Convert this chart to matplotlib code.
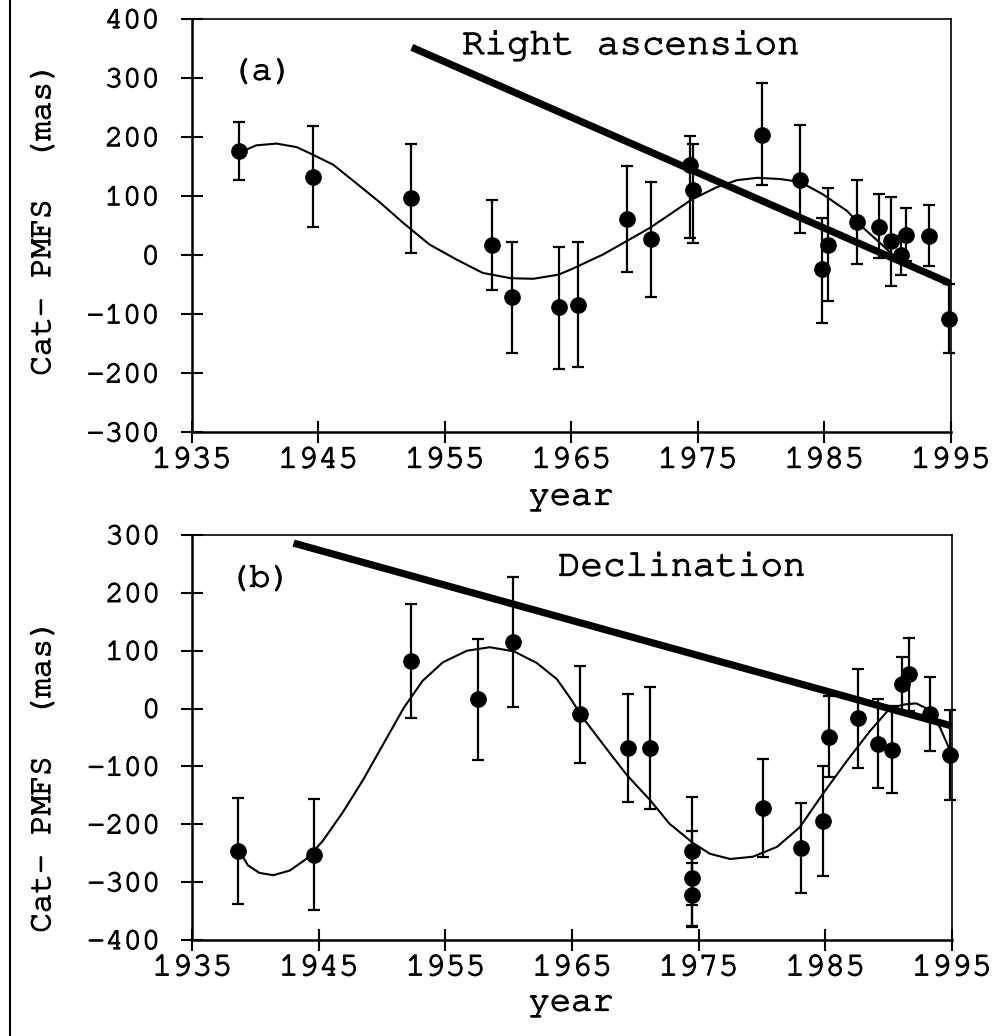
"""
Cat-PMFS residuals in right ascension and declination, 1935-1995
"""

import numpy as np
import matplotlib
matplotlib.use("Agg")
import matplotlib.pyplot as plt
import matplotlib.patheffects as pe
from matplotlib import font_manager
from matplotlib.lines import Line2D

# pick a typewriter-like font if one is installed
have = {f.name for f in font_manager.fontManager.ttflist}
mono = "DejaVu Sans Mono"
for name in ["Courier New", "Nimbus Mono PS", "FreeMono", "Courier", "Liberation Mono"]:
    if name in have:
        mono = name
        break
plt.rcParams["font.family"] = [mono, "DejaVu Sans Mono"]
plt.rcParams["axes.unicode_minus"] = False

# slightly heavier strokes than the plain typewriter face (scanned look)
thick = [pe.withStroke(linewidth=0.9, foreground="black")]

# ---- panel (a): right ascension ----
ra_year = [1938.7, 1944.6, 1952.3, 1958.7, 1960.3, 1964.0, 1965.5, 1969.4, 1971.3,
           1974.4, 1974.6, 1980.1, 1983.1, 1984.8, 1985.3, 1987.6, 1989.3, 1990.3,
           1991.1, 1991.5, 1993.3, 1994.9]
ra_val = [177, 133, 97, 18, -71, -88, -85, 62, 28, 153, 111, 204, 127, -24, 18, 57,
          48, 24, 0, 35, 32, -108]
ra_err_lo = [49, 86, 93, 77, 95, 104, 105, 91, 99, 124, 91, 85, 89, 91, 96, 72, 53,
             77, 33, 45, 51, 58]
ra_err_hi = [49, 86, 92, 75, 94, 102, 107, 89, 96, 49, 78, 87, 94, 87, 95, 71, 55,
             74, 33, 45, 53, 60]

# fitted curve
ra_fit_year = [1938.7, 1940.1, 1941.7, 1943.3, 1944.6, 1946.2, 1948.0, 1949.9, 1951.7,
               1953.8, 1955.9, 1958.0, 1960.2, 1962.0, 1964.0, 1965.0, 1967.5, 1969.4,
               1971.2, 1972.8, 1974.5, 1976.5, 1978.1, 1979.7, 1981.5, 1983.1, 1984.9,
               1986.8, 1988.1, 1989.4, 1990.7, 1992.5, 1995.0]
ra_fit_val = [173, 186, 189, 183, 170, 153, 122, 89, 55, 18, -7, -30, -39, -40, -33,
              -24, 1, 24, 46, 69, 94, 115, 127, 131, 129, 124, 103, 75, 46, 21, -5,
              -22, -47]

# thick straight line
ra_line_year = [1952.4, 1995.0]
ra_line_val = [352, -48]

# ---- panel (b): declination ----
dec_year = [1938.6, 1944.6, 1952.3, 1957.6, 1960.3, 1965.6, 1969.4, 1971.2, 1974.5,
            1974.5, 1974.5, 1980.1, 1983.1, 1984.8, 1985.3, 1987.6, 1989.2, 1990.3,
            1991.1, 1991.6, 1993.3, 1994.9]
dec_val = [-246, -253, 82, 16, 115, -10, -68, -68, -246, -293, -322, -172, -241, -195,
           -49, -17, -61, -71, 42, 59, -9, -80]
dec_err = [91, 96, 98, 105, 112, 84, 94, 105, 93, 82, 55, 84, 77, 95, 70, 85, 77, 75,
           48, 63, 64, 78]

dec_fit_year = [1938.8, 1939.4, 1940.3, 1941.4, 1942.7, 1944.0, 1945.3, 1946.9, 1948.5,
                1950.1, 1951.7, 1953.2, 1954.8, 1956.7, 1958.5, 1960.4, 1962.2, 1963.8,
                1964.8, 1965.9, 1967.5, 1969.3, 1971.2, 1972.7, 1974.6, 1975.9, 1977.5,
                1979.3, 1981.2, 1983.0, 1984.8, 1986.7, 1988.5, 1990.1, 1991.2, 1992.2,
                1993.3, 1994.1, 1994.9]
dec_fit_val = [-249, -271, -284, -288, -280, -260, -229, -179, -123, -61, 1, 48, 80,
               100, 106, 99, 79, 51, 20, -17, -63, -114, -159, -199, -233, -251, -260,
               -256, -239, -205, -148, -91, -40, 0, 7, 9, -3, -34, -74]

dec_line_year = [1943.0, 1995.0]
dec_line_val = [286, -30]

year_ticks = [1935, 1945, 1955, 1965, 1975, 1985, 1995]
ra_ticks = [400, 300, 200, 100, 0, -100, -200, -300]
dec_ticks = [300, 200, 100, 0, -100, -200, -300, -400]

W, H = 1001, 1036


def fx(x):
    return x / W


def fy(y):
    return 1 - y / H


fig = plt.figure(figsize=(W / 100, H / 100), dpi=100)
ax1 = fig.add_axes([fx(191.7), fy(432.3), fx(950.7) - fx(191.7), fy(19) - fy(432.3)])
ax2 = fig.add_axes([fx(192.3), fy(940), fx(951.7) - fx(192.3), fy(535) - fy(940)])


def draw_panel(ax, yr, val, elo, ehi, fyr, fval, lyr, lval, yticks):
    ax.plot(lyr, lval, color="black", lw=5.2, solid_capstyle="butt", zorder=3)
    ax.plot(fyr, fval, color="black", lw=1.5, zorder=3)
    ax.errorbar(yr, val, yerr=[elo, ehi], fmt="o", color="black", ms=11,
                elinewidth=1.6, capsize=4, capthick=1.6, zorder=4, clip_on=False)
    ax.set_xlim(1935, 1995)
    ax.set_ylim(min(yticks), max(yticks))
    ax.set_xticks(year_ticks)
    ax.set_xticklabels([str(t) for t in year_ticks], fontsize=24)
    ax.set_yticks(yticks)
    ax.set_yticklabels([str(t) for t in yticks], fontsize=22)
    ax.tick_params(axis="both", direction="inout", length=16, width=1.5, color="black")
    ax.tick_params(axis="y", pad=15)
    ax.tick_params(axis="x", pad=3)
    for lab in ax.get_xticklabels() + ax.get_yticklabels():
        lab.set_path_effects(thick)
    for side in ["left", "bottom"]:
        ax.spines[side].set_linewidth(1.8)
    for side in ["top", "right"]:
        ax.spines[side].set_linewidth(1.2)


draw_panel(ax1, ra_year, ra_val, ra_err_lo, ra_err_hi, ra_fit_year, ra_fit_val,
           ra_line_year, ra_line_val, ra_ticks)
draw_panel(ax2, dec_year, dec_val, dec_err, dec_err, dec_fit_year, dec_fit_val,
           dec_line_year, dec_line_val, dec_ticks)

# labels
texts = [
    fig.text(fx(43), fy(219), "Cat- PMFS  (mas)", rotation=90, fontsize=23.5,
             ha="center", va="center"),
    fig.text(fx(43), fy(776), "Cat- PMFS  (mas)", rotation=90, fontsize=23.5,
             ha="center", va="center"),
    fig.text(fx(571), fy(497), "year", fontsize=25.5, ha="center", va="center"),
    fig.text(fx(571), fy(1003), "year", fontsize=25.5, ha="center", va="center"),
    fig.text(fx(262), fy(72), "(a)", fontsize=25, ha="center", va="center"),
    fig.text(fx(462), fy(45), "Right ascension", fontsize=27, ha="left", va="center"),
    fig.text(fx(260), fy(579), "(b)", fontsize=25, ha="center", va="center"),
    fig.text(fx(558), fy(567), "Declination", fontsize=27, ha="left", va="center"),
]
for t in texts:
    t.set_path_effects(thick)

# page edge on the left
fig.add_artist(Line2D([fx(10), fx(10)], [0, 1], color="black", lw=1.5))

fig.savefig("out.png", dpi=100)
